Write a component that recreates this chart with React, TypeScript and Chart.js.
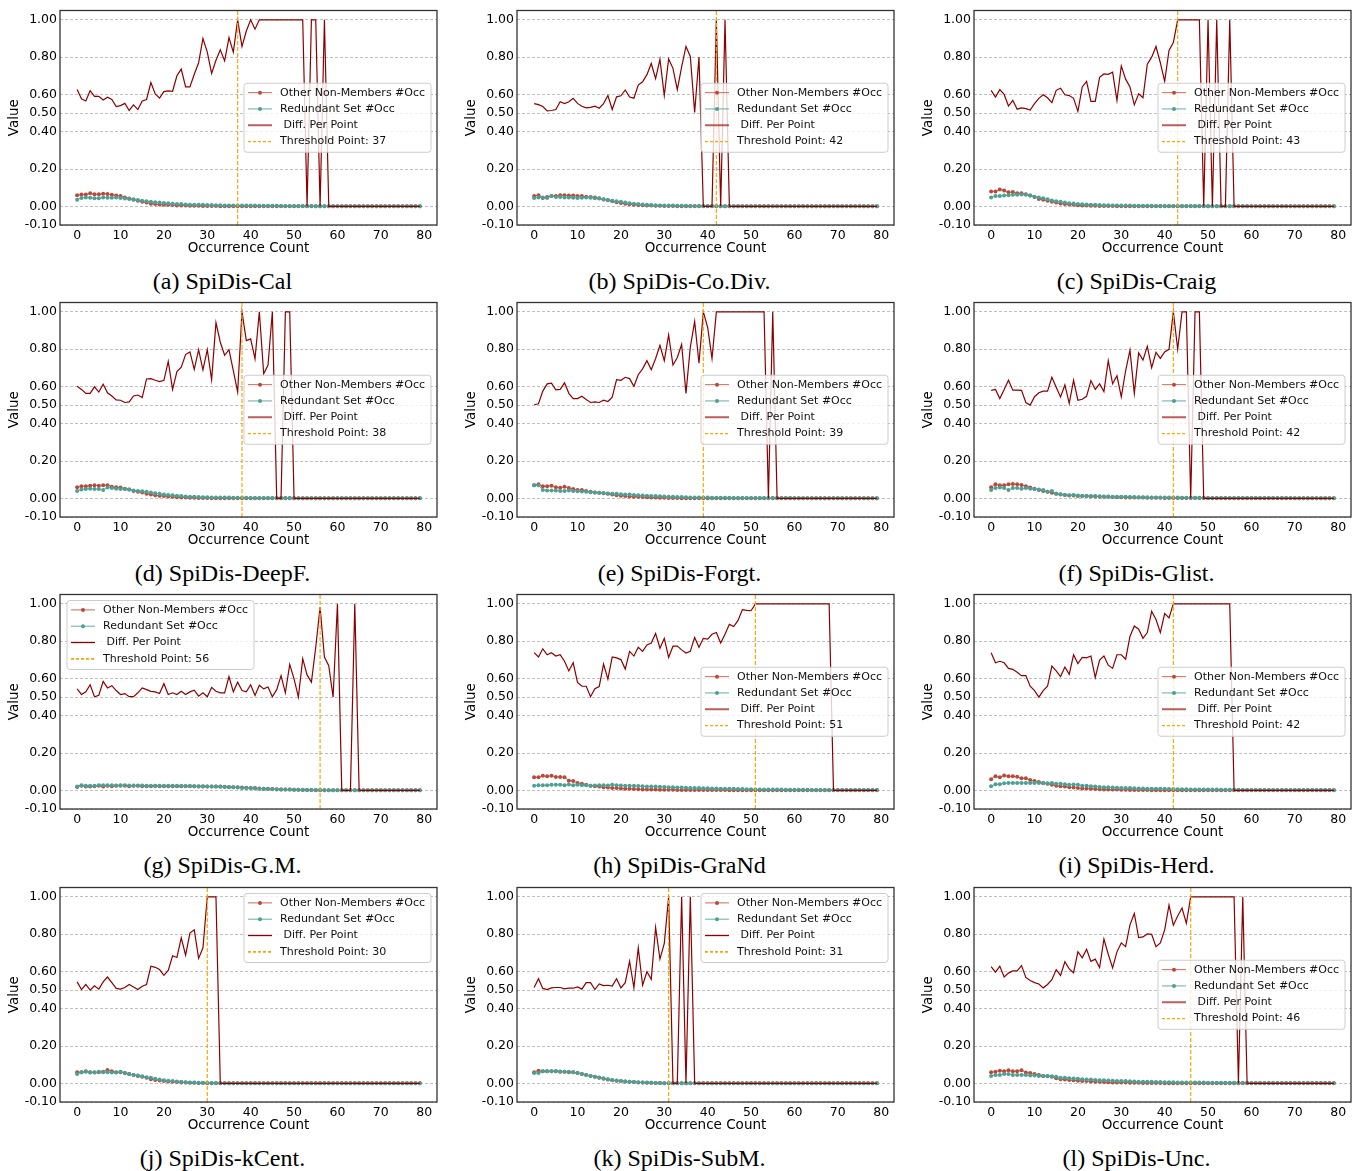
import React, { useEffect, useRef } from "react";
import { Chart, registerables } from "chart.js";

Chart.register(...registerables);

// ---------- categories / ticks ----------
const OCC = [
  0, 1, 2, 3, 4, 5, 6, 7, 8, 9, 10, 11, 12, 13, 14, 15, 16, 17, 18, 19,
  20, 21, 22, 23, 24, 25, 26, 27, 28, 29, 30, 31, 32, 33, 34, 35, 36, 37, 38, 39,
  40, 41, 42, 43, 44, 45, 46, 47, 48, 49, 50, 51, 52, 53, 54, 55, 56, 57, 58, 59,
  60, 61, 62, 63, 64, 65, 66, 67, 68, 69, 70, 71, 72, 73, 74, 75, 76, 77, 78, 79,
];
const X_TICKS = [0, 10, 20, 30, 40, 50, 60, 70, 80];
const Y_TICKS = [-0.1, 0, 0.2, 0.4, 0.5, 0.6, 0.8, 1.0];
const X_MIN = -3.95, X_MAX = 82.95, Y_MIN = -0.1, Y_MAX = 1.05;

// ---------- (a) SpiDis-Cal ----------
const DIFF_A = [
  .626, .577, .565, .62, .59, .59, .57, .585, .573, .535,
  .54, .552, .514, .544, .519, .565, .573, .664, .603, .58,
  .615, .619, .617, .7, .736, .64, .64, .708, .77, .9,
  .827, .713, .783, .839, .78, .905, .827, 1, .857, .94,
  1, .95, 1, 1, 1, 1, 1, 1, 1, 1,
  1, 1, 1, 0, 1, 1, 0, 1, 0, 0,
  0, 0, 0, 0, 0, 0, 0, 0, 0, 0,
  0, 0, 0, 0, 0, 0, 0, 0, 0, 0,
];
const OTHER_A = [
  .06, .063, .063, .07, .065, .065, .068, .066, .062, .058,
  .055, .048, .042, .036, .03, .024, .02, .014, .012, .01,
  .009, .008, .007, .005, .004, .004, .003, .003, .003, .002,
  .002, .002, .002, .001, .001, .001, .001, .001, .001, .001,
  .001, .001, 0, 0, 0, 0, 0, 0, 0, 0,
  0, 0, 0, 0, 0, 0, 0, 0, 0, 0,
  0, 0, 0, 0, 0, 0, 0, 0, 0, 0,
  0, 0, 0, 0, 0, 0, 0, 0, 0, 0,
];
const REDUND_A = [
  .036, .045, .048, .046, .043, .044, .048, .046, .046, .047,
  .045, .042, .04, .038, .034, .03, .027, .025, .022, .02,
  .018, .016, .014, .013, .012, .01, .009, .009, .008, .008,
  .007, .007, .006, .006, .005, .005, .005, .005, .004, .004,
  .004, .004, .003, .003, .003, .003, .003, .002, .002, .002,
  .002, .002, .002, .002, .002, .001, .001, .001, .001, .001,
  .001, .001, .001, .001, .001, .001, .001, .001, .001, .001,
  .001, .001, .001, .001, .001, .001, .001, .001, .001, .001,
];

// ---------- (b) SpiDis-Co.Div. ----------
const DIFF_B = [
  .551, .545, .535, .512, .514, .519, .561, .551, .561, .579,
  .552, .537, .528, .531, .537, .526, .551, .594, .519, .587,
  .593, .624, .586, .58, .65, .668, .706, .766, .685, .788,
  .594, .79, .74, .626, .748, .857, .804, .503, .8, 0,
  0, 0, 1, 0, 1, 0, 0, 0, 0, 0,
  0, 0, 0, 0, 0, 0, 0, 0, 0, 0,
  0, 0, 0, 0, 0, 0, 0, 0, 0, 0,
  0, 0, 0, 0, 0, 0, 0, 0, 0, 0,
];
const OTHER_B = [
  .055, .06, .045, .05, .055, .055, .06, .06, .058, .058,
  .055, .055, .052, .05, .048, .043, .037, .033, .028, .022,
  .018, .014, .011, .009, .007, .006, .005, .004, .003, .003,
  .002, .002, .002, .001, .001, .001, .001, .001, .001, .001,
  0, 0, 0, 0, 0, 0, 0, 0, 0, 0,
  0, 0, 0, 0, 0, 0, 0, 0, 0, 0,
  0, 0, 0, 0, 0, 0, 0, 0, 0, 0,
  0, 0, 0, 0, 0, 0, 0, 0, 0, 0,
];
const REDUND_B = [
  .045, .048, .048, .045, .055, .05, .05, .048, .048, .046,
  .045, .046, .047, .046, .044, .042, .038, .034, .03, .027,
  .024, .02, .017, .014, .012, .01, .008, .007, .006, .005,
  .005, .004, .004, .003, .003, .003, .002, .002, .002, .002,
  .002, .002, .001, .001, .001, .001, .001, .001, .001, .001,
  .001, .001, .001, .001, .001, .001, .001, .001, .001, .001,
  0, 0, 0, 0, 0, 0, 0, 0, 0, 0,
  0, 0, 0, 0, 0, 0, 0, 0, 0, 0,
];

// ---------- (c) SpiDis-Craig ----------
const DIFF_C = [
  .622, .586, .626, .6, .538, .568, .521, .528, .524, .516,
  .551, .579, .598, .582, .556, .622, .633, .598, .594, .579,
  .509, .64, .67, .563, .563, .692, .71, .708, .719, .568,
  .753, .682, .64, .544, .603, .582, .762, .8, .857, .77,
  .67, .836, .878, 1, 1, 1, 1, 1, 1, 0,
  1, 0, 1, 0, 0, 1, 0, 0, 0, 0,
  0, 0, 0, 0, 0, 0, 0, 0, 0, 0,
  0, 0, 0, 0, 0, 0, 0, 0, 0, 0,
];
const OTHER_C = [
  .08, .08, .09, .085, .075, .077, .07, .07, .065, .058,
  .05, .04, .035, .03, .025, .02, .015, .012, .01, .008,
  .006, .005, .004, .003, .003, .002, .002, .002, .002, .001,
  .001, .001, .001, .001, .001, .001, .001, .001, .001, .001,
  0, 0, 0, 0, 0, 0, 0, 0, 0, 0,
  0, 0, 0, 0, 0, 0, 0, 0, 0, 0,
  0, 0, 0, 0, 0, 0, 0, 0, 0, 0,
  0, 0, 0, 0, 0, 0, 0, 0, 0, 0,
];
const REDUND_C = [
  .048, .055, .055, .058, .06, .062, .062, .063, .062, .058,
  .052, .047, .043, .038, .032, .028, .024, .02, .017, .015,
  .013, .011, .01, .009, .008, .007, .006, .006, .005, .005,
  .004, .004, .004, .003, .003, .003, .003, .003, .002, .002,
  .002, .002, .002, .002, .002, .002, .002, .002, .002, .002,
  .001, .001, .001, .001, .001, .001, .001, .001, .001, .001,
  .001, .001, .001, .001, .001, .001, .001, .001, .001, .001,
  0, 0, 0, 0, 0, 0, 0, 0, 0, 0,
];

// ---------- (d) SpiDis-DeepF. ----------
const DIFF_D = [
  .601, .584, .563, .563, .598, .57, .612, .566, .549, .528,
  .526, .514, .517, .549, .554, .54, .64, .642, .633, .626,
  .633, .734, .584, .68, .703, .771, .785, .692, .797, .689,
  .797, .636, .942, .837, .767, .797, .685, .57, 1, .846,
  .855, .748, 1, .668, .715, 1, 0, 0, 1, 1,
  0, 0, 0, 0, 0, 0, 0, 0, 0, 0,
  0, 0, 0, 0, 0, 0, 0, 0, 0, 0,
  0, 0, 0, 0, 0, 0, 0, 0, 0, 0,
];
const OTHER_D = [
  .06, .065, .065, .068, .07, .068, .07, .07, .062, .06,
  .058, .052, .048, .04, .036, .032, .025, .02, .017, .014,
  .012, .01, .008, .006, .005, .004, .003, .003, .002, .002,
  .002, .001, .001, .001, .001, .001, .001, .001, .001, .001,
  0, 0, 0, 0, 0, 0, 0, 0, 0, 0,
  0, 0, 0, 0, 0, 0, 0, 0, 0, 0,
  0, 0, 0, 0, 0, 0, 0, 0, 0, 0,
  0, 0, 0, 0, 0, 0, 0, 0, 0, 0,
];
const REDUND_D = [
  .04, .048, .05, .052, .05, .05, .045, .058, .055, .052,
  .05, .05, .048, .042, .04, .038, .035, .032, .028, .024,
  .02, .018, .016, .014, .012, .01, .009, .008, .007, .006,
  .006, .005, .005, .004, .004, .004, .003, .003, .003, .003,
  .002, .002, .002, .002, .002, .002, .002, .002, .002, .002,
  .001, .001, .001, .001, .001, .001, .001, .001, .001, .001,
  .001, .001, .001, .001, .001, .001, .001, .001, .001, .001,
  0, 0, 0, 0, 0, 0, 0, 0, 0, 0,
];

// ---------- (e) SpiDis-Forgt. ----------
const DIFF_E = [
  .502, .507, .575, .614, .617, .582, .584, .619, .563, .535,
  .535, .547, .53, .514, .517, .514, .526, .519, .542, .636,
  .633, .649, .642, .601, .663, .694, .738, .689, .75, .82,
  .738, .876, .715, .755, .825, .563, .811, .948, .724, 1,
  .916, .75, 1, 1, 1, 1, 1, 1, 1, 1,
  1, 1, 1, 1, 0, 1, 0, 0, 0, 0,
  0, 0, 0, 0, 0, 0, 0, 0, 0, 0,
  0, 0, 0, 0, 0, 0, 0, 0, 0, 0,
];
const OTHER_E = [
  .07, .075, .065, .065, .068, .06, .057, .062, .055, .05,
  .045, .045, .04, .035, .032, .03, .027, .024, .02, .017,
  .014, .012, .01, .009, .008, .007, .006, .005, .004, .003,
  .003, .002, .002, .002, .001, .001, .001, .001, .001, .001,
  0, 0, 0, 0, 0, 0, 0, 0, 0, 0,
  0, 0, 0, 0, 0, 0, 0, 0, 0, 0,
  0, 0, 0, 0, 0, 0, 0, 0, 0, 0,
  0, 0, 0, 0, 0, 0, 0, 0, 0, 0,
];
const REDUND_E = [
  .07, .07, .045, .042, .042, .042, .04, .04, .042, .04,
  .038, .037, .035, .033, .032, .03, .028, .026, .025, .024,
  .022, .021, .02, .018, .016, .015, .014, .013, .012, .011,
  .01, .009, .008, .007, .007, .006, .005, .005, .004, .004,
  .004, .003, .003, .003, .003, .003, .002, .002, .002, .002,
  .002, .002, .002, .002, .002, .002, .002, .002, .002, .002,
  .001, .001, .001, .001, .001, .001, .001, .001, .001, .001,
  .001, .001, .001, .001, .001, .001, .001, .001, .001, .001,
];

// ---------- (f) SpiDis-Glist. ----------
const DIFF_F = [
  .579, .584, .535, .584, .633, .58, .58, .579, .514, .5,
  .545, .566, .575, .575, .649, .596, .544, .608, .509, .633,
  .526, .531, .547, .631, .584, .614, .572, .738, .614, .657,
  .544, .684, .794, .563, .78, .741, .815, .701, .783, .75,
  .785, .799, 1, .799, 1, 1, 0, 1, 1, 0,
  0, 0, 0, 0, 0, 0, 0, 0, 0, 0,
  0, 0, 0, 0, 0, 0, 0, 0, 0, 0,
  0, 0, 0, 0, 0, 0, 0, 0, 0, 0,
];
const OTHER_F = [
  .06, .075, .07, .07, .075, .077, .075, .072, .065, .058,
  .052, .045, .04, .035, .03, .025, .02, .018, .015, .015,
  .013, .012, .012, .01, .01, .009, .008, .008, .007, .006,
  .006, .005, .005, .004, .004, .004, .003, .003, .003, .003,
  .002, .002, .002, .002, .002, .002, .002, .002, .002, .002,
  .001, .001, .001, .001, .001, .001, .001, .001, .001, .001,
  0, 0, 0, 0, 0, 0, 0, 0, 0, 0,
  0, 0, 0, 0, 0, 0, 0, 0, 0, 0,
];
const REDUND_F = [
  .045, .055, .058, .055, .045, .055, .055, .052, .055, .052,
  .05, .047, .045, .035, .04, .025, .022, .018, .016, .018,
  .015, .013, .013, .012, .012, .011, .01, .01, .009, .009,
  .008, .008, .007, .007, .006, .006, .006, .005, .005, .005,
  .004, .004, .004, .004, .003, .003, .003, .003, .003, .003,
  .002, .002, .002, .002, .002, .002, .002, .002, .002, .002,
  .002, .002, .002, .002, .002, .002, .002, .002, .002, .002,
  .001, .001, .001, .001, .001, .001, .001, .001, .001, .001,
];

// ---------- (g) SpiDis-G.M. ----------
const DIFF_G = [
  .544, .514, .528, .566, .502, .51, .584, .549, .561, .535,
  .514, .519, .502, .502, .523, .549, .54, .531, .528, .519,
  .572, .514, .523, .514, .531, .514, .528, .537, .505, .523,
  .502, .552, .531, .523, .523, .61, .528, .58, .535, .528,
  .566, .509, .563, .544, .554, .502, .54, .615, .523, .675,
  .598, .5, .706, .619, .58, .767, .983, .715, .668, .5,
  1, 0, 0, 0, 1, 0, 0, 0, 0, 0,
  0, 0, 0, 0, 0, 0, 0, 0, 0, 0,
];
const OTHER_G = [
  .018, .025, .02, .02, .022, .025, .02, .025, .022, .025,
  .025, .025, .022, .025, .025, .022, .022, .022, .023, .022,
  .022, .022, .022, .022, .022, .022, .022, .022, .021, .021,
  .02, .02, .02, .02, .019, .018, .017, .016, .015, .014,
  .013, .012, .01, .009, .008, .007, .006, .005, .005, .004,
  .003, .003, .002, .002, .002, .001, .001, .001, .001, .001,
  0, 0, 0, 0, 0, 0, 0, 0, 0, 0,
  0, 0, 0, 0, 0, 0, 0, 0, 0, 0,
];
const REDUND_G = [
  .02, .028, .025, .025, .025, .028, .028, .027, .027, .026,
  .028, .027, .026, .026, .026, .026, .025, .025, .025, .025,
  .025, .024, .024, .024, .023, .023, .023, .022, .022, .022,
  .021, .02, .02, .019, .018, .017, .016, .015, .013, .012,
  .011, .01, .009, .008, .007, .006, .005, .005, .004, .004,
  .003, .003, .003, .002, .002, .002, .002, .001, .001, .001,
  .001, .001, .001, .001, .001, .001, .001, .001, .001, .001,
  .001, .001, .001, .001, .001, .001, .001, .001, .001, .001,
];

// ---------- (h) SpiDis-GraNd ----------
const DIFF_H = [
  .738, .715, .759, .727, .738, .72, .727, .692, .64, .684,
  .579, .558, .558, .502, .545, .556, .677, .596, .715, .71,
  .701, .65, .745, .72, .767, .745, .78, .79, .841, .762,
  .815, .713, .773, .773, .753, .736, .745, .82, .767, .815,
  .811, .837, .846, .79, .837, .89, .878, .911, .969, .965,
  .963, 1, 1, 1, 1, 1, 1, 1, 1, 1,
  1, 1, 1, 1, 1, 1, 1, 1, 1, 0,
  0, 0, 0, 0, 0, 0, 0, 0, 0, 0,
];
const OTHER_H = [
  .07, .07, .078, .075, .078, .072, .072, .07, .052, .05,
  .04, .035, .03, .025, .022, .02, .017, .015, .013, .012,
  .01, .009, .008, .007, .006, .005, .005, .004, .004, .003,
  .003, .003, .003, .002, .002, .002, .002, .002, .002, .002,
  .002, .002, .002, .002, .002, .001, .001, .001, .001, .001,
  .001, .001, .001, .001, .001, .001, .001, .001, .001, .001,
  .001, .001, .001, .001, .001, .001, .001, .001, .001, .001,
  .001, .001, .001, .001, .001, .001, .001, .001, .001, .001,
];
const REDUND_H = [
  .025, .027, .027, .028, .03, .03, .03, .028, .032, .027,
  .03, .028, .027, .025, .026, .027, .028, .026, .03, .027,
  .026, .025, .025, .024, .023, .022, .021, .02, .02, .019,
  .018, .017, .016, .015, .015, .014, .013, .013, .012, .011,
  .011, .01, .01, .009, .009, .008, .008, .007, .007, .006,
  .006, .005, .005, .005, .004, .004, .004, .004, .003, .003,
  .003, .003, .003, .003, .002, .002, .002, .002, .002, .002,
  .002, .002, .002, .002, .002, .002, .002, .002, .002, .002,
];

// ---------- (i) SpiDis-Herd. ----------
const DIFF_I = [
  .738, .684, .692, .684, .654, .649, .633, .615, .615, .558,
  .535, .5, .535, .558, .666, .64, .61, .661, .622, .727,
  .68, .713, .71, .72, .605, .698, .72, .671, .654, .727,
  .727, .703, .825, .881, .864, .815, .846, .96, .916, .846,
  .948, .925, 1, 1, 1, 1, 1, 1, 1, 1,
  1, 1, 1, 1, 1, 1, 0, 0, 0, 0,
  0, 0, 0, 0, 0, 0, 0, 0, 0, 0,
  0, 0, 0, 0, 0, 0, 0, 0, 0, 0,
];
const OTHER_I = [
  .06, .075, .07, .08, .076, .075, .073, .065, .065, .055,
  .05, .045, .04, .035, .03, .025, .022, .02, .017, .015,
  .013, .01, .01, .008, .007, .006, .005, .005, .004, .004,
  .003, .003, .002, .002, .002, .002, .002, .001, .001, .001,
  .001, .001, .001, .001, .001, .001, .001, .001, .001, .001,
  .001, .001, .001, .001, .001, .001, .001, .001, .001, .001,
  0, 0, 0, 0, 0, 0, 0, 0, 0, 0,
  0, 0, 0, 0, 0, 0, 0, 0, 0, 0,
];
const REDUND_I = [
  .022, .033, .033, .038, .04, .04, .04, .04, .04, .04,
  .04, .04, .038, .038, .04, .035, .035, .033, .03, .032,
  .03, .025, .025, .022, .02, .018, .017, .016, .015, .014,
  .013, .012, .012, .011, .01, .01, .009, .009, .008, .008,
  .008, .007, .007, .006, .006, .006, .005, .005, .005, .004,
  .004, .004, .004, .003, .003, .003, .003, .003, .002, .002,
  .002, .002, .002, .002, .002, .002, .002, .002, .002, .002,
  .002, .002, .002, .002, .002, .002, .002, .002, .002, .002,
];

// ---------- (j) SpiDis-kCent. ----------
const DIFF_J = [
  .544, .503, .53, .5, .523, .505, .544, .57, .54, .509,
  .505, .514, .53, .517, .503, .521, .53, .628, .622, .61,
  .579, .605, .684, .675, .78, .687, .806, .823, .67, .727,
  1, 1, 1, 0, 0, 0, 0, 0, 0, 0,
  0, 0, 0, 0, 0, 0, 0, 0, 0, 0,
  0, 0, 0, 0, 0, 0, 0, 0, 0, 0,
  0, 0, 0, 0, 0, 0, 0, 0, 0, 0,
  0, 0, 0, 0, 0, 0, 0, 0, 0, 0,
];
const OTHER_J = [
  .06, .06, .065, .06, .058, .06, .062, .072, .065, .06,
  .06, .055, .05, .045, .04, .035, .03, .022, .018, .015,
  .012, .01, .008, .007, .005, .004, .003, .003, .002, .002,
  .001, .001, .001, .001, .001, .001, .001, .001, .001, .001,
  0, 0, 0, 0, 0, 0, 0, 0, 0, 0,
  0, 0, 0, 0, 0, 0, 0, 0, 0, 0,
  0, 0, 0, 0, 0, 0, 0, 0, 0, 0,
  0, 0, 0, 0, 0, 0, 0, 0, 0, 0,
];
const REDUND_J = [
  .05, .06, .062, .058, .06, .062, .06, .06, .058, .058,
  .062, .055, .05, .045, .042, .038, .033, .03, .025, .02,
  .017, .014, .012, .01, .008, .006, .005, .004, .003, .003,
  .002, .002, .002, .001, .001, .001, .001, .001, .001, .001,
  0, 0, 0, 0, 0, 0, 0, 0, 0, 0,
  0, 0, 0, 0, 0, 0, 0, 0, 0, 0,
  0, 0, 0, 0, 0, 0, 0, 0, 0, 0,
  0, 0, 0, 0, 0, 0, 0, 0, 0, 0,
];

// ---------- (k) SpiDis-SubM. ----------
const DIFF_K = [
  .514, .561, .509, .503, .512, .514, .514, .507, .51, .51,
  .517, .505, .54, .54, .503, .533, .524, .526, .521, .561,
  .512, .54, .654, .512, .726, .526, .598, .558, .836, .666,
  .75, 1, 0, 0, 1, 0, 1, 0, 0, 0,
  0, 0, 0, 0, 0, 0, 0, 0, 0, 0,
  0, 0, 0, 0, 0, 0, 0, 0, 0, 0,
  0, 0, 0, 0, 0, 0, 0, 0, 0, 0,
  0, 0, 0, 0, 0, 0, 0, 0, 0, 0,
];
const OTHER_K = [
  .06, .068, .065, .065, .065, .065, .062, .062, .06, .06,
  .055, .05, .045, .04, .035, .03, .025, .02, .017, .014,
  .012, .01, .008, .007, .005, .004, .003, .003, .002, .002,
  .001, .001, .001, .001, .001, .001, .001, .001, .001, .001,
  0, 0, 0, 0, 0, 0, 0, 0, 0, 0,
  0, 0, 0, 0, 0, 0, 0, 0, 0, 0,
  0, 0, 0, 0, 0, 0, 0, 0, 0, 0,
  0, 0, 0, 0, 0, 0, 0, 0, 0, 0,
];
const REDUND_K = [
  .055, .055, .065, .065, .065, .065, .063, .062, .062, .06,
  .055, .05, .045, .04, .036, .032, .027, .022, .018, .015,
  .012, .01, .008, .007, .006, .005, .004, .003, .002, .002,
  .001, .001, .001, .001, .001, .001, .001, .001, .001, .001,
  0, 0, 0, 0, 0, 0, 0, 0, 0, 0,
  0, 0, 0, 0, 0, 0, 0, 0, 0, 0,
  0, 0, 0, 0, 0, 0, 0, 0, 0, 0,
  0, 0, 0, 0, 0, 0, 0, 0, 0, 0,
];

// ---------- (l) SpiDis-Unc. ----------
const DIFF_L = [
  .626, .596, .628, .57, .591, .603, .603, .631, .568, .551,
  .54, .533, .512, .53, .556, .61, .579, .652, .614, .593,
  .706, .673, .719, .654, .666, .621, .774, .692, .619, .705,
  .753, .733, .85, .911, .781, .785, .801, .799, .733, .753,
  .823, .955, .848, .897, .94, .858, 1, 1, 1, 1,
  1, 1, 1, 1, 1, 1, 1, 0, 1, 0,
  0, 0, 0, 0, 0, 0, 0, 0, 0, 0,
  0, 0, 0, 0, 0, 0, 0, 0, 0, 0,
];
const OTHER_L = [
  .06, .062, .068, .065, .07, .065, .065, .07, .058, .055,
  .05, .045, .04, .038, .035, .028, .022, .02, .018, .016,
  .014, .013, .012, .01, .009, .008, .007, .006, .005, .005,
  .004, .004, .003, .003, .003, .002, .002, .002, .002, .002,
  .001, .001, .001, .001, .001, .001, .001, .001, .001, .001,
  .001, .001, .001, .001, .001, .001, .001, .001, .001, .001,
  0, 0, 0, 0, 0, 0, 0, 0, 0, 0,
  0, 0, 0, 0, 0, 0, 0, 0, 0, 0,
];
const REDUND_L = [
  .04, .045, .045, .05, .05, .045, .045, .045, .045, .042,
  .042, .04, .04, .04, .038, .035, .03, .03, .028, .026,
  .024, .022, .021, .02, .018, .017, .016, .015, .014, .013,
  .012, .012, .011, .01, .009, .009, .008, .008, .007, .007,
  .006, .006, .006, .005, .005, .005, .004, .004, .004, .004,
  .003, .003, .003, .003, .003, .003, .003, .003, .003, .003,
  .002, .002, .002, .002, .002, .002, .002, .002, .002, .002,
  .002, .002, .002, .002, .002, .002, .002, .002, .002, .002,
];

// ---------- per-panel metadata ----------
const THRESHOLDS = [37, 42, 43, 38, 39, 42, 56, 51, 42, 30, 31, 46];
const CAPTIONS = [
  "(a) SpiDis-Cal", "(b) SpiDis-Co.Div.", "(c) SpiDis-Craig",
  "(d) SpiDis-DeepF.", "(e) SpiDis-Forgt.", "(f) SpiDis-Glist.",
  "(g) SpiDis-G.M.", "(h) SpiDis-GraNd", "(i) SpiDis-Herd.",
  "(j) SpiDis-kCent.", "(k) SpiDis-SubM.", "(l) SpiDis-Unc.",
];
const LEGEND_LOC = ["cr", "cr", "cr", "cr", "cr", "cr", "ul", "cr", "cr", "ur", "ur", "cr"];
const DARK_LEGEND = [false, false, false, false, false, false, true, false, false, true, true, false];
const LEGEND_LABELS = ["Other Non-Members #Occ", "Redundant Set #Occ", " Diff. Per Point", "Threshold Point: "];

const DIFFS = [DIFF_A, DIFF_B, DIFF_C, DIFF_D, DIFF_E, DIFF_F, DIFF_G, DIFF_H, DIFF_I, DIFF_J, DIFF_K, DIFF_L];
const OTHERS = [OTHER_A, OTHER_B, OTHER_C, OTHER_D, OTHER_E, OTHER_F, OTHER_G, OTHER_H, OTHER_I, OTHER_J, OTHER_K, OTHER_L];
const REDUNDS = [REDUND_A, REDUND_B, REDUND_C, REDUND_D, REDUND_E, REDUND_F, REDUND_G, REDUND_H, REDUND_I, REDUND_J, REDUND_K, REDUND_L];

// ---------- layout & style ----------
const COL_LEFT = [60, 517, 974];
const ROW_TOP = [5, 297, 589, 882];
const PLOT_W = 377;
const Y_AXIS_W = 60, X_AXIS_H = 35, PAD_TOP = 5;
const CANVAS_W = 450, CANVAS_H = 260;

const C_OTHER = "#B84A3B", C_OTHER_LINE = "rgba(190,82,68,0.85)";
const C_RED = "#4E9F94", C_RED_LINE = "rgba(78,159,148,0.85)";
const C_DIFF = "#8B0000";
const C_THR = "#FFA500";
const FONT = "'DejaVu Sans', sans-serif";

const framePlugin = {
  id: "frame",
  afterDatasetsDraw(chart: any) {
    const { ctx, chartArea: a } = chart;
    ctx.save();
    ctx.strokeStyle = "#333";
    ctx.lineWidth = 1.3;
    ctx.strokeRect(a.left, a.top, a.right - a.left, a.bottom - a.top);
    ctx.restore();
  },
};

function makeLegendPlugin(idx: number) {
  return {
    id: "customLegend",
    afterDraw(chart: any) {
      const { ctx, chartArea: a } = chart;
      const W = 187, H = 69, r = 3;
      const loc = LEGEND_LOC[idx];
      const x0 = loc === "ul" ? a.left + 7 : a.right - 6 - W;
      const y0 = loc === "cr" ? (a.top + a.bottom) / 2 - H / 2 : a.top + 6;
      ctx.save();
      ctx.beginPath();
      ctx.moveTo(x0 + r, y0);
      ctx.lineTo(x0 + W - r, y0);
      ctx.arcTo(x0 + W, y0, x0 + W, y0 + r, r);
      ctx.lineTo(x0 + W, y0 + H - r);
      ctx.arcTo(x0 + W, y0 + H, x0 + W - r, y0 + H, r);
      ctx.lineTo(x0 + r, y0 + H);
      ctx.arcTo(x0, y0 + H, x0, y0 + H - r, r);
      ctx.lineTo(x0, y0 + r);
      ctx.arcTo(x0, y0, x0 + r, y0, r);
      ctx.closePath();
      ctx.fillStyle = "rgba(255,255,255,0.8)";
      ctx.fill();
      ctx.strokeStyle = "rgba(200,200,200,0.9)";
      ctx.lineWidth = 1;
      ctx.stroke();
      const dark = DARK_LEGEND[idx];
      const labels = [LEGEND_LABELS[0], LEGEND_LABELS[1], LEGEND_LABELS[2], LEGEND_LABELS[3] + THRESHOLDS[idx]];
      const colors = [C_OTHER_LINE, C_RED_LINE, dark ? C_DIFF : "rgba(165,40,40,0.75)", C_THR];
      const widths = [1, 1, dark ? 1.3 : 2, dark ? 1.8 : 1.2];
      ctx.font = `11px ${FONT}`;
      ctx.textBaseline = "middle";
      labels.forEach((lab, i) => {
        const cy = y0 + 9.4 + i * 16.3;
        const hx0 = x0 + 4, hx1 = x0 + 28;
        ctx.setLineDash(i === 3 ? [3, 2] : []);
        ctx.lineWidth = widths[i];
        ctx.strokeStyle = colors[i];
        ctx.beginPath();
        ctx.moveTo(hx0, cy);
        ctx.lineTo(hx1, cy);
        ctx.stroke();
        if (i < 2) {
          ctx.fillStyle = i === 0 ? C_OTHER : C_RED;
          ctx.beginPath();
          ctx.arc((hx0 + hx1) / 2, cy, 2, 0, Math.PI * 2);
          ctx.fill();
        }
        ctx.fillStyle = "#111";
        ctx.fillText(lab, x0 + 36, cy);
      });
      ctx.restore();
    },
  };
}

function Panel({ idx }: { idx: number }) {
  const ref = useRef<HTMLCanvasElement | null>(null);
  const col = idx % 3;
  const row = Math.floor(idx / 3);
  const plotLeft = COL_LEFT[col];
  const plotTop = ROW_TOP[row];

  useEffect(() => {
    if (!ref.current) return;
    const thr = THRESHOLDS[idx];
    const toPts = (arr: number[]) => OCC.map((x, i) => ({ x, y: arr[i] }));
    const chart = new Chart(ref.current, {
      type: "line",
      data: {
        datasets: [
          {
            label: "Threshold",
            data: [{ x: thr, y: Y_MIN }, { x: thr, y: Y_MAX }],
            borderColor: C_THR,
            borderWidth: 1.2,
            borderDash: [4, 2],
            pointRadius: 0,
          },
          {
            label: "Diff. Per Point",
            data: toPts(DIFFS[idx]),
            borderColor: C_DIFF,
            borderWidth: 1.2,
            pointRadius: 0,
          },
          {
            label: "Redundant Set #Occ",
            data: toPts(REDUNDS[idx]),
            borderColor: C_RED_LINE,
            borderWidth: 1,
            pointRadius: 2,
            pointBorderWidth: 0,
            pointBackgroundColor: C_RED,
          },
          {
            label: "Other Non-Members #Occ",
            data: toPts(OTHERS[idx]),
            borderColor: C_OTHER_LINE,
            borderWidth: 1,
            pointRadius: 2,
            pointBorderWidth: 0,
            pointBackgroundColor: C_OTHER,
          },
        ] as any,
      },
      options: {
        responsive: false,
        animation: false,
        devicePixelRatio: 1,
        events: [],
        layout: { padding: { left: 0, top: PAD_TOP, right: CANVAS_W - Y_AXIS_W - PLOT_W, bottom: 0 } },
        elements: { line: { tension: 0 } },
        plugins: { legend: { display: false }, tooltip: { enabled: false } },
        scales: {
          x: {
            type: "linear",
            min: X_MIN,
            max: X_MAX,
            afterBuildTicks: (s: any) => { s.ticks = X_TICKS.map((v) => ({ value: v })); },
            afterFit: (s: any) => { s.height = X_AXIS_H; },
            grid: { display: false, drawTicks: false },
            border: { display: false },
            ticks: {
              autoSkip: false, maxRotation: 0, padding: 3, color: "#000",
              font: { family: FONT, size: 12.5 },
              callback: (v: any) => String(v),
            },
            title: {
              display: true, text: "Occurrence Count", color: "#000",
              font: { family: FONT, size: 13.5 }, padding: { top: 0, bottom: 3.6 },
            },
          },
          y: {
            type: "linear",
            min: Y_MIN,
            max: Y_MAX,
            afterBuildTicks: (s: any) => { s.ticks = Y_TICKS.map((v) => ({ value: v })); },
            afterFit: (s: any) => { s.width = Y_AXIS_W; },
            grid: { color: "rgba(140,140,140,0.55)", lineWidth: 1, drawTicks: false },
            border: { display: false, dash: [3, 2] },
            ticks: {
              padding: 3, color: "#000",
              font: { family: FONT, size: 12.5 },
              callback: (v: any) => Number(v).toFixed(2),
            },
            title: {
              display: true, text: "Value", color: "#000",
              font: { family: FONT, size: 13.5 }, padding: { top: 6, bottom: 0 },
            },
          },
        },
      } as any,
      plugins: [framePlugin, makeLegendPlugin(idx)],
    });
    return () => chart.destroy();
  }, [idx]);

  return (
    <>
      <canvas
        ref={ref}
        width={CANVAS_W}
        height={CANVAS_H}
        style={{
          position: "absolute",
          left: plotLeft - Y_AXIS_W,
          top: plotTop - PAD_TOP,
          width: CANVAS_W,
          height: CANVAS_H,
        }}
      />
      <div
        style={{
          position: "absolute",
          left: plotLeft + PLOT_W / 2 - 26 - 150,
          top: plotTop + 261,
          width: 300,
          textAlign: "center",
          fontFamily: "'Liberation Serif', 'Times New Roman', serif",
          fontSize: 24,
          lineHeight: "30px",
          whiteSpace: "nowrap",
          color: "#000",
        }}
      >
        {CAPTIONS[idx]}
      </div>
    </>
  );
}

export default function App() {
  return (
    <div
      style={{
        position: "absolute",
        left: 0,
        top: 0,
        width: 1359,
        height: 1171,
        overflow: "hidden",
        background: "#fff",
      }}
    >
      {THRESHOLDS.map((_, i) => (
        <Panel key={i} idx={i} />
      ))}
    </div>
  );
}
